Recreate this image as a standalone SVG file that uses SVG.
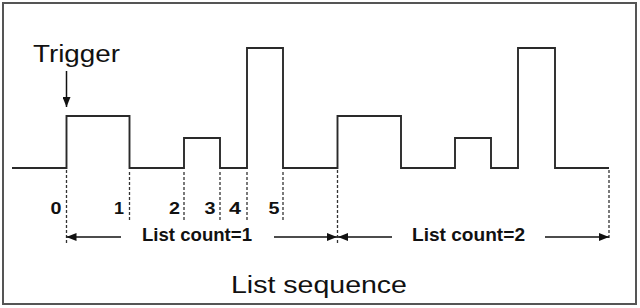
<svg xmlns="http://www.w3.org/2000/svg" width="640" height="308" viewBox="0 0 640 308">
<style>
.wave{fill:none;stroke:#2a2a2a;stroke-width:1.9;stroke-linejoin:miter}
.dash{fill:none;stroke:#333;stroke-width:1.3;stroke-dasharray:3 2}
.arr{fill:none;stroke:#111;stroke-width:1.5}
.num{font-family:"Liberation Sans",Arial,sans-serif;font-weight:bold;font-size:16.5px;fill:#111}
.lbl{font-family:"Liberation Sans",Arial,sans-serif;font-weight:bold;font-size:18px;fill:#111}
.big{font-family:"Liberation Sans",Arial,sans-serif;font-size:23.5px;fill:#111}
</style>
<defs>
<marker id="ah" viewBox="0 0 10 8" refX="10" refY="4" markerWidth="10" markerHeight="8" markerUnits="userSpaceOnUse" orient="auto">
<path d="M0,0 L10,4 L0,8 Z" fill="#111"/>
</marker>
</defs>
<rect x="3" y="3" width="633" height="301" fill="#fff" stroke="#555" stroke-width="2"/>
<g id="waveform">
<path class="wave" d="M12,168 H66.5 V116 H129.5 V168 H184 V138 H220 V168 H247 V48 H283 V168 H337.5 V116 H401 V168 H455 V138 H491 V168 H518 V48 H555 V168 H609"/>
</g>
<g id="trigger">
<text class="big" x="33" y="62" textLength="87" lengthAdjust="spacingAndGlyphs">Trigger</text>
<line class="arr" x1="66.5" y1="71" x2="66.5" y2="107" marker-end="url(#ah)"/>
</g>
<g id="markers">
<line class="dash" x1="66.5" y1="170" x2="66.5" y2="243"/>
<line class="dash" x1="129.5" y1="172" x2="129.5" y2="221"/>
<line class="dash" x1="184" y1="172" x2="184" y2="221"/>
<line class="dash" x1="220" y1="172" x2="220" y2="221"/>
<line class="dash" x1="247" y1="172" x2="247" y2="221"/>
<line class="dash" x1="283" y1="172" x2="283" y2="221"/>
<line class="dash" x1="337.5" y1="170" x2="337.5" y2="245"/>
<line class="dash" x1="609" y1="170" x2="609" y2="238"/>
</g>
<g id="numbers">
<text class="num" x="50.5" y="213.5" textLength="11" lengthAdjust="spacingAndGlyphs">0</text>
<text class="num" x="114" y="213.5" textLength="10" lengthAdjust="spacingAndGlyphs">1</text>
<text class="num" x="169" y="213.5" textLength="11" lengthAdjust="spacingAndGlyphs">2</text>
<text class="num" x="204.5" y="213.5" textLength="11" lengthAdjust="spacingAndGlyphs">3</text>
<text class="num" x="229" y="213.5" textLength="12" lengthAdjust="spacingAndGlyphs">4</text>
<text class="num" x="268.5" y="213.5" textLength="11" lengthAdjust="spacingAndGlyphs">5</text>
</g>
<g id="connectors">
<line class="arr" x1="121" y1="237" x2="66.5" y2="237" marker-end="url(#ah)"/>
<line class="arr" x1="274" y1="237" x2="337" y2="237" marker-end="url(#ah)"/>
<line class="arr" x1="392" y1="237" x2="338" y2="237" marker-end="url(#ah)"/>
<line class="arr" x1="545" y1="237" x2="609" y2="237" marker-end="url(#ah)"/>
</g>
<g id="labels">
<text class="lbl" x="142" y="241" textLength="110" lengthAdjust="spacingAndGlyphs">List count=1</text>
<text class="lbl" x="412" y="241" textLength="113" lengthAdjust="spacingAndGlyphs">List count=2</text>
<text class="big" x="231" y="293" textLength="176" lengthAdjust="spacingAndGlyphs">List sequence</text>
</g>
</svg>
